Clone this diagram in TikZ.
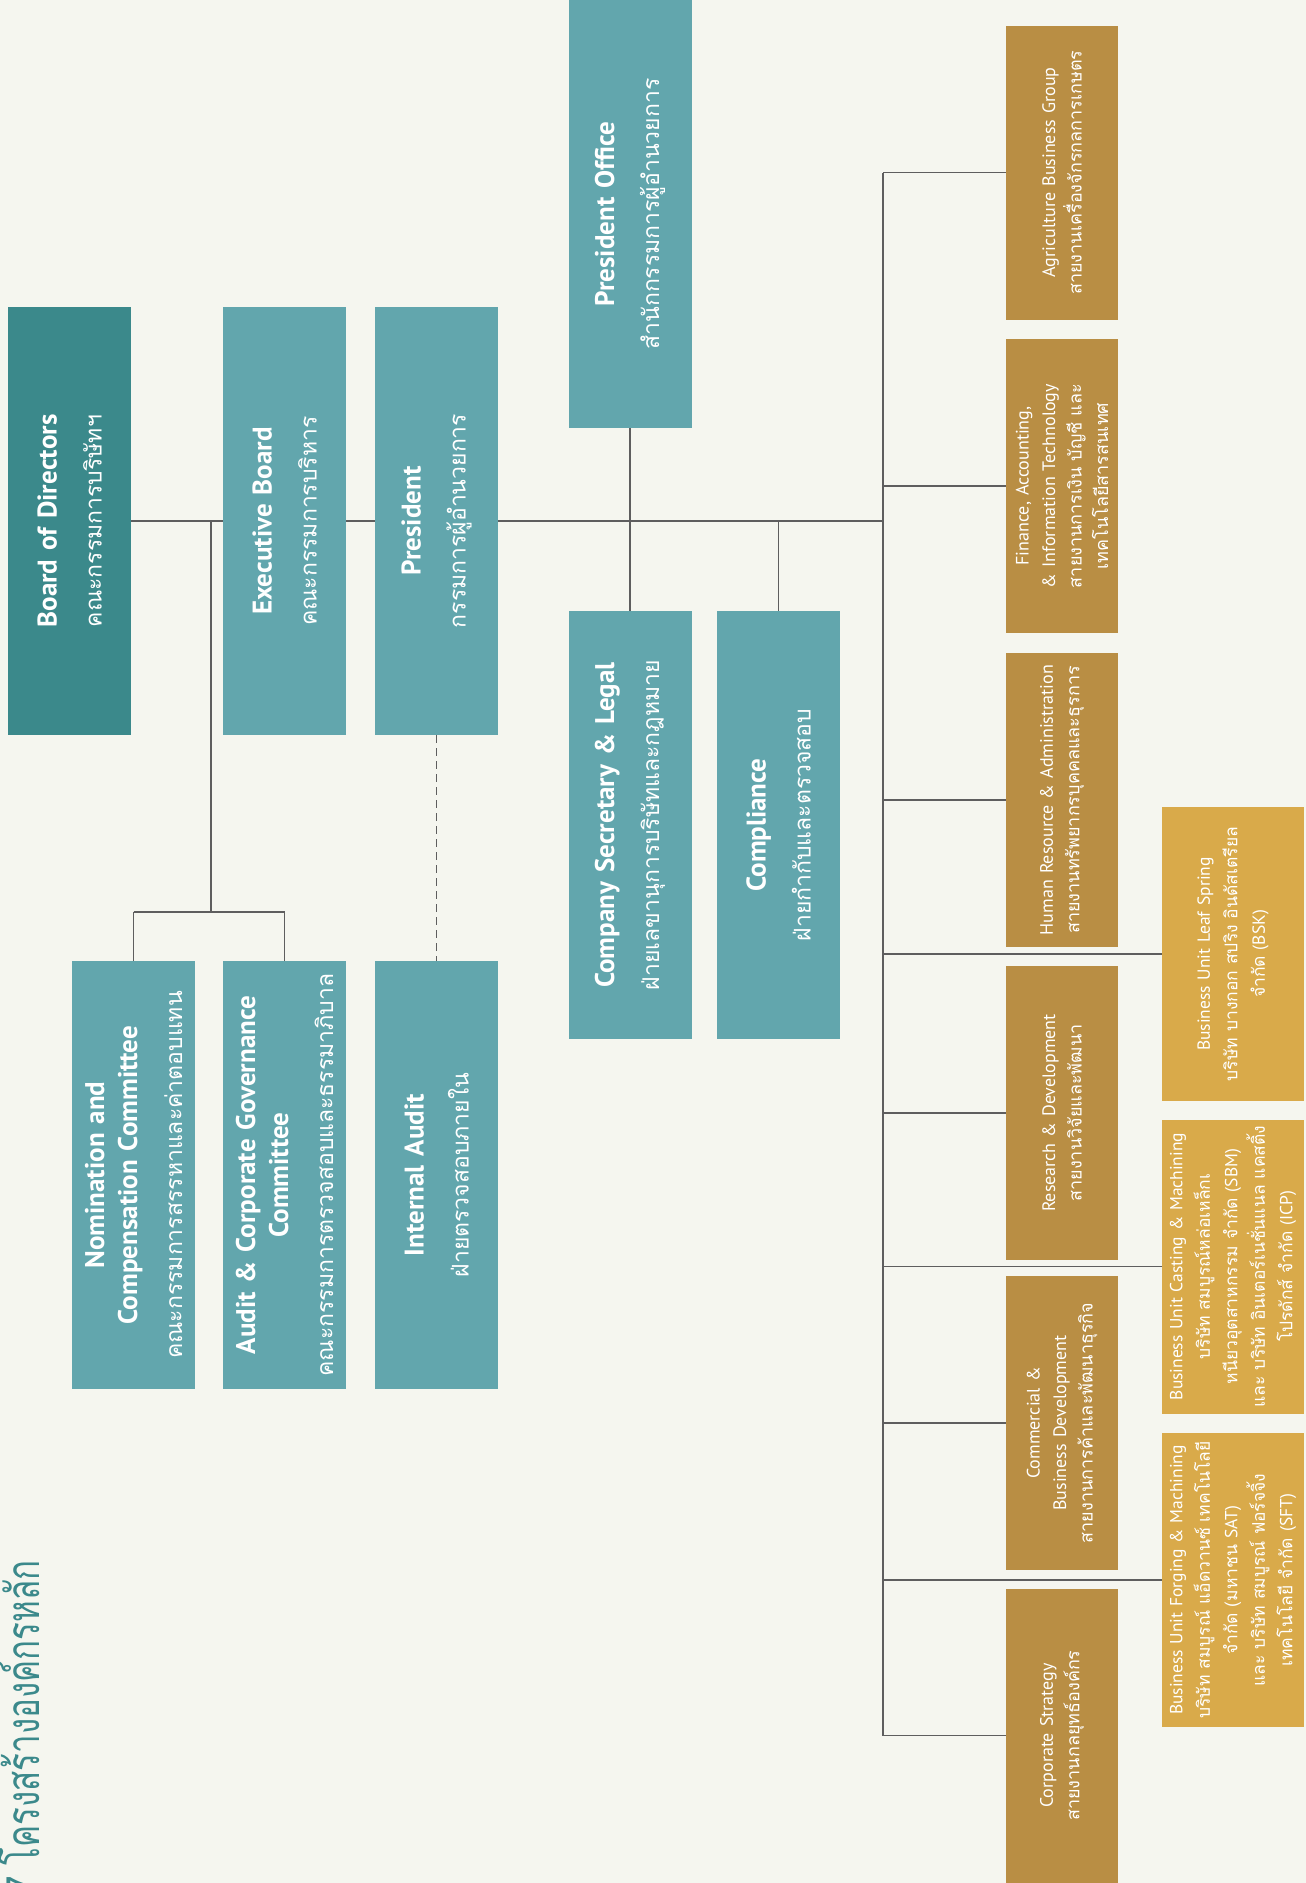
\documentclass[tikz,border=0pt]{standalone}
\usepackage{fontspec}
\setmainfont{PT Sans}[WordSpace=1.5]
\newfontfamily\thaifont[Script=Thai]{Loma}
\newfontfamily\titlefont[Script=Thai,FakeStretch=0.72]{Loma}
\newcommand{\thx}[1]{{\mdseries\thaifont #1}}
\newcommand{\tht}[1]{{\fontsize{23}{33}\selectfont\mdseries\thaifont #1}}
\definecolor{bgc}{HTML}{F5F6EF}
\definecolor{tealdark}{HTML}{3B898B}
\definecolor{tealbox}{HTML}{62A6AD}
\definecolor{golddark}{HTML}{B98E44}
\definecolor{goldlight}{HTML}{D9AA4A}
\definecolor{linegray}{HTML}{5E5E5E}
\tikzset{
  tbox/.style={rotate=90, minimum width=428pt, minimum height=123pt, inner sep=0pt,
    fill=tealbox, text=white, align=center, text width=418pt,
    font=\fontsize{27}{33}\selectfont\bfseries},
  gbox/.style={rotate=90, minimum width=294pt, minimum height=112pt, inner sep=0pt,
    fill=golddark, text=white, align=center, text width=290pt,
    font=\fontsize{18}{26.5}\selectfont},
  lbox/.style={gbox, minimum height=142pt, fill=goldlight,
    font=\fontsize{17.5}{27.5}\selectfont},
  conn/.style={draw=linegray, line width=1.3pt},
  dconn/.style={conn, dash pattern=on 8pt off 5pt}
}
\begin{document}
\begin{tikzpicture}[x=1pt,y=-1pt]
\useasboundingbox (0,0) rectangle (1306,1883);
\fill[bgc] (0,0) rectangle (1306,1883);
\begin{scope}
\clip (0,0) rectangle (1306,1883);
% title
\node[rotate=90, anchor=base west, text=tealdark, inner sep=0pt,
  font=\fontsize{46}{48}\selectfont\titlefont] (title) at (39,1895) {7 โครงสร้างองค์กรหลัก};
% teal boxes
\node[tbox, fill=tealdark] (bod) at (69.5,521) {Board of Directors\\[12pt]\tht{คณะกรรมการบริษัทฯ}};
\node[tbox] (exec) at (284.5,521) {Executive Board\\[12pt]\tht{คณะกรรมการบริหาร}};
\node[tbox] (pres) at (436.5,521) {President\\[12pt]\tht{กรรมการผู้อำนวยการ}};
\node[tbox] (po) at (630,214) {President Office\\[12pt]\tht{สำนักกรรมการผู้อำนวยการ}};
\node[tbox] (csl) at (630,825) {Company Secretary \& Legal\\[12pt]\tht{ฝ่ายเลขานุการบริษัทและกฎหมาย}};
\node[tbox] (comp) at (778.5,825) {Compliance\\[12pt]\tht{ฝ่ายกำกับและตรวจสอบ}};
\node[tbox] (nom) at (133.5,1175) {Nomination and\\Compensation Committee\\[12pt]\tht{คณะกรรมการสรรหาและค่าตอบแทน}};
\node[tbox] (aud) at (284.5,1175) {Audit \& Corporate Governance\\Committee\\[12pt]\tht{คณะกรรมการตรวจสอบและธรรมาภิบาล}};
\node[tbox] (ia) at (436.5,1175) {Internal Audit\\[12pt]\tht{ฝ่ายตรวจสอบภายใน}};
% gold boxes
\node[gbox] (agri) at (1062,172.5) {Agriculture Business Group\\\thx{สายงานเครื่องจักรกลการเกษตร}};
\node[gbox] (fin) at (1062,486) {Finance, Accounting,\\\& Information Technology\\\thx{สายงานการเงิน บัญชี และ}\\\thx{เทคโนโลยีสารสนเทศ}};
\node[gbox] (hr) at (1062,800) {Human Resource \& Administration\\\thx{สายงานทรัพยากรบุคคลและธุรการ}};
\node[gbox] (rd) at (1062,1113) {Research \& Development\\\thx{สายงานวิจัยและพัฒนา}};
\node[gbox] (com) at (1062,1423) {Commercial \&\\Business Development\\\thx{สายงานการค้าและพัฒนาธุรกิจ}};
\node[gbox] (cs) at (1062,1735.5) {Corporate Strategy\\\thx{สายงานกลยุทธ์องค์กร}};
\node[lbox] (bsk) at (1233,954) {Business Unit Leaf Spring\\\thx{บริษัท บางกอก สปริง อินดัสเตรียล}\\\thx{จำกัด} (BSK)};
\node[lbox] (icp) at (1233,1266.5) {Business Unit Casting \& Machining\\\thx{บริษัท สมบูรณ์หล่อเหล็กเ}\\\thx{หนียวอุตสาหกรรม จำกัด} (SBM)\\\thx{และ บริษัท อินเตอร์เนชั่นแนล แคสติ้ง}\\\thx{โปรดักส์ จำกัด} (ICP)};
\node[lbox] (sft) at (1233,1580) {Business Unit Forging \& Machining\\\thx{บริษัท สมบูรณ์ แอ็ดวานซ์ เทคโนโลยี}\\\thx{จำกัด (มหาชน} SAT)\\\thx{และ บริษัท สมบูรณ์ ฟอร์จจิ้ง}\\\thx{เทคโนโลยี จำกัด} (SFT)};
\end{scope}
% connectors
\coordinate (tmid) at (883,521);
\coordinate (ttop) at (883,172.5);
\coordinate (tbot) at (883,1735.5);
\coordinate (lj) at (211,521);
\coordinate (lb) at (211,912);
\draw[conn] (bod.south) -- (exec.north);
\draw[conn] (exec.south) -- (pres.north);
\draw[conn] (pres.south) -- (tmid);
\draw[conn] (ttop) -- (tbot);
\foreach \n in {agri,fin,hr,rd,com,cs,bsk,icp,sft}{
  \draw[conn] (\n.north -| ttop) -- (\n.north);
}
\draw[conn] (po.west) -- (csl.east);
\draw[conn] (comp.east) -- (comp.east |- tmid);
\draw[conn] (lj) -- (lb);
\draw[conn] (nom.east |- lb) -- (aud.east |- lb);
\draw[conn] (nom.east |- lb) -- (nom.east);
\draw[conn] (aud.east |- lb) -- (aud.east);
\draw[dconn] (pres.west) -- (ia.east);
\end{tikzpicture}
\end{document}
